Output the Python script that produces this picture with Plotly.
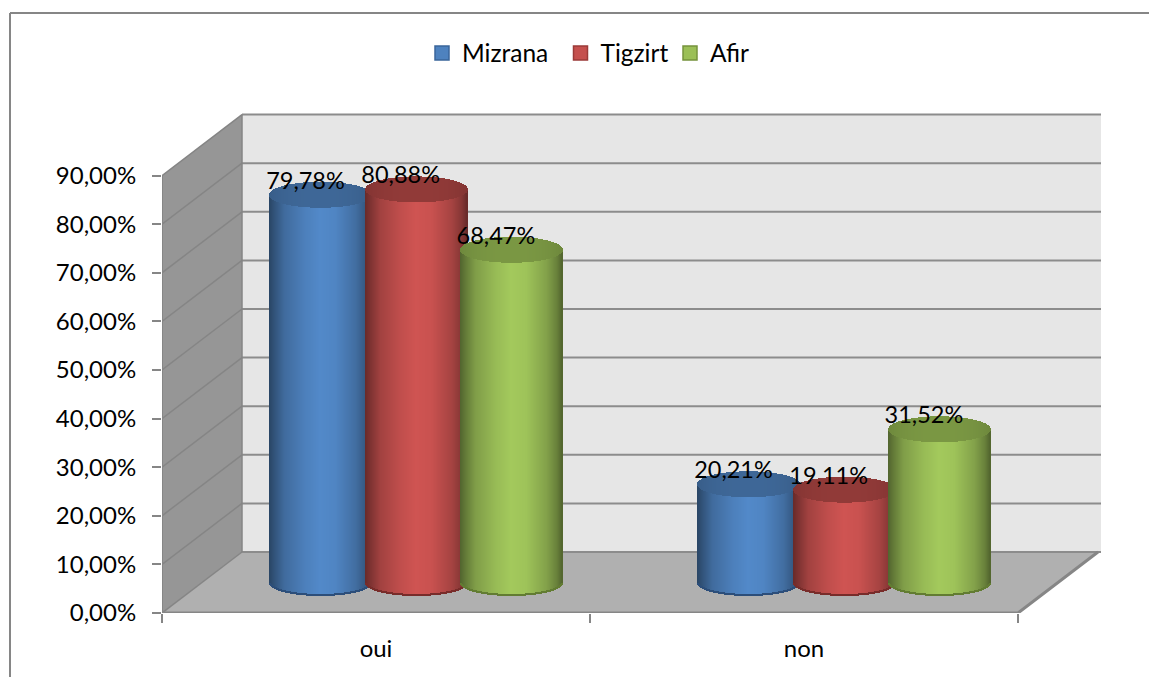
import numpy as np
import plotly.graph_objects as go

categories = ["oui", "non"]
series_names = ["Mizrana", "Tigzirt", "Afir"]
mizrana = [79.78, 20.21]
tigzirt = [80.88, 19.11]
afir = [68.47, 31.52]
y_ticks = [0, 10, 20, 30, 40, 50, 60, 70, 80, 90]

FONT = "Lato"
GRAY = "#868686"
PX_X = 428.0          # pixels per category
PX_Y = 4.86           # pixels per percent
DX = 80 / PX_X        # oblique depth, in x units
DY = 61 / PX_Y        # oblique depth, in y units
STEP = 95.2 / PX_X    # spacing between cylinders
WIDTH = 102 / PX_X    # cylinder diameter
ELL = 13 / PX_Y       # ellipse half height
N = 102

L, T, R, B = 162, 113, 48, 64
PW, PH = 1149 - L - R, 677 - T - B
X_MAX = PW / PX_X
Y_MAX = PH / PX_Y

LIGHT = [(82, 137, 201), (207, 84, 82), (163, 201, 92)]
CAP = [(62, 103, 151), (145, 58, 56), (122, 151, 67)]
RIM = [(44, 78, 122), (120, 44, 42), (98, 124, 50)]
LEG_EDGE = ["#3A659B", "#9B3A38", "#76933C"]
LEG_LEFT = [422, 560.5, 670]


def rgb(c, f=1.0):
    return "rgb(%d,%d,%d)" % tuple(min(255, int(round(v * f))) for v in c)


def gradient(t):
    return np.interp(t, [-1, -0.9, -0.7, -0.3, 0, 0.3, 0.7, 0.9, 1],
                     [0.50, 0.60, 0.78, 0.93, 1.0, 0.97, 0.80, 0.64, 0.50])


fig = go.Figure()
values = [mizrana, tigzirt, afir]
ts = (np.arange(N) + 0.5) / N * 2 - 1
half = np.sqrt(1 - ts ** 2) * ELL
strip = WIDTH / N * 1.25
label_x, label_y, label_text = [], [], []

for s, vals in enumerate(values):
    bx, bbase, bh, bc = [], [], [], []
    rx, rbase, rh = [], [], []
    cx, cbase, ch, cc = [], [], [], []
    for c, v in enumerate(vals):
        center = c + 0.5 + DX / 2 + (s - 1) * STEP + 0.2 / PX_X
        xs = center + ts * WIDTH / 2
        y_mid0 = DY / 2
        y_top = v + DY / 2
        bx += list(xs)
        bbase += list(y_mid0 - half)
        bh += list(y_top - (y_mid0 - half))
        bc += [rgb(LIGHT[s], f) for f in gradient(ts)]
        rx += list(xs)
        rbase += list(y_mid0 - half)
        rh += [0.3] * N
        cx += list(xs)
        cbase += list(y_top - half)
        ch += list(2 * half)
        cc += [rgb(CAP[s], 1.0 - 0.10 * abs(t) ** 3) for t in ts]
        label_x.append(center - 15.5 / PX_X)
        label_y.append(y_top + 12 / PX_Y)
        label_text.append(f"{v:.2f}".replace(".", ",") + "%")
    common = dict(width=strip, showlegend=False, hoverinfo="skip")
    fig.add_trace(go.Bar(x=bx, y=bh, base=bbase, marker=dict(color=bc, line_width=0), **common))
    fig.add_trace(go.Bar(x=rx, y=rh, base=rbase, marker=dict(color=rgb(RIM[s]), line_width=0), **common))
    fig.add_trace(go.Bar(x=cx, y=ch, base=cbase, marker=dict(color=cc, line_width=0), **common))

# Front edges of the floor and the value axis line
fig.add_trace(go.Scatter(x=[0, 2, 2 + DX], y=[0, 0, DY], mode="lines", cliponaxis=False,
                         line=dict(color=GRAY, width=3), showlegend=False, hoverinfo="skip"))
fig.add_trace(go.Scatter(x=[0, 0], y=[0, 90], mode="lines", cliponaxis=False,
                         line=dict(color=GRAY, width=2), showlegend=False, hoverinfo="skip"))

# Data labels
fig.add_trace(go.Scatter(x=label_x, y=label_y, text=label_text, mode="text", cliponaxis=False,
                         textposition="middle center", textfont=dict(family=FONT, size=23.5, color="#000000"),
                         showlegend=False, hoverinfo="skip"))

# Legend entries (one legend per entry so each can sit where the reference has it)
legend_ids = ["legend", "legend2", "legend3"]
for s, name in enumerate(series_names):
    fig.add_trace(go.Scatter(x=[None], y=[None], mode="markers", name=name, legend=legend_ids[s],
                             showlegend=True,
                             marker=dict(symbol="square", size=14, color=rgb(LIGHT[s], 0.95),
                                         line=dict(color=LEG_EDGE[s], width=1.5))))

# Walls and floor
shapes = [
    dict(type="path", xref="x", yref="y", layer="below", line_width=0, fillcolor="#E6E6E6",
         path=f"M {DX} {DY} L {X_MAX} {DY} L {X_MAX} {90 + DY} L {DX} {90 + DY} Z"),
    dict(type="path", xref="x", yref="y", layer="below", line_width=0, fillcolor="#969696",
         path=f"M 0 0 L {DX} {DY} L {DX} {90 + DY} L 0 90 Z"),
    dict(type="path", xref="x", yref="y", layer="below", line_width=0, fillcolor="#B0B0B0",
         path=f"M 0 0 L 2 0 L {2 + DX} {DY} L {DX} {DY} Z"),
]
for v in y_ticks:
    shapes.append(dict(type="line", xref="x", yref="y", layer="below", x0=0, y0=v, x1=DX, y1=v + DY,
                       line=dict(color="#858585", width=1.5)))
    shapes.append(dict(type="line", xref="x", yref="y", layer="below", x0=DX, y0=v + DY, x1=X_MAX, y1=v + DY,
                       line=dict(color="#8C8C8C", width=2)))
shapes.append(dict(type="line", xref="x", yref="y", layer="below", x0=DX, y0=DY, x1=DX, y1=90 + DY,
                   line=dict(color="#858585", width=1.5)))
# Chart frame
shapes.append(dict(type="line", xref="paper", yref="paper", x0=(10 - L) / PW, x1=(10 - L) / PW,
                   y0=-B / PH, y1=1 + (T - 13) / PH, line=dict(color=GRAY, width=2)))
shapes.append(dict(type="line", xref="paper", yref="paper", x0=(10 - L) / PW, x1=(1149 - L) / PW,
                   y0=1 + (T - 13) / PH, y1=1 + (T - 13) / PH, line=dict(color=GRAY, width=2)))


def legend_at(left):
    return dict(x=(left - L) / PW, xanchor="left", y=1 + 60 / PH, yanchor="middle",
                font=dict(family=FONT, size=24.5, color="#000000"), bgcolor="rgba(0,0,0,0)")


fig.update_layout(
    width=1149, height=677, barmode="overlay", bargap=0,
    margin=dict(l=L, r=R, t=T, b=B, pad=0),
    paper_bgcolor="#FFFFFF", plot_bgcolor="#FFFFFF",
    font=dict(family=FONT, color="#000000", size=24),
    shapes=shapes,
    legend=legend_at(LEG_LEFT[0]),
    legend2=legend_at(LEG_LEFT[1]),
    legend3=legend_at(LEG_LEFT[2]),
    xaxis=dict(range=[0, X_MAX], tickmode="array", tickvals=[0.5, 1.5], ticktext=categories,
               ticks="", showgrid=False, zeroline=False, showline=False, ticklabelstandoff=19,
               tickfont=dict(family=FONT, size=24),
               minor=dict(tickmode="array", tickvals=[0, 1, 2], ticks="outside", ticklen=9,
                          tickwidth=2, tickcolor=GRAY, showgrid=False)),
    yaxis=dict(range=[0, Y_MAX], tickmode="array", tickvals=y_ticks,
               ticktext=[f"{v:.2f}".replace(".", ",") + "%" for v in y_ticks],
               ticks="outside", ticklen=9, tickwidth=2, tickcolor=GRAY, showgrid=False,
               zeroline=False, showline=False, ticklabelstandoff=11,
               tickfont=dict(family=FONT, size=24)),
)

fig.write_html("out.html", config=dict(displayModeBar=False),
               post_script="document.body.style.margin='0';")
